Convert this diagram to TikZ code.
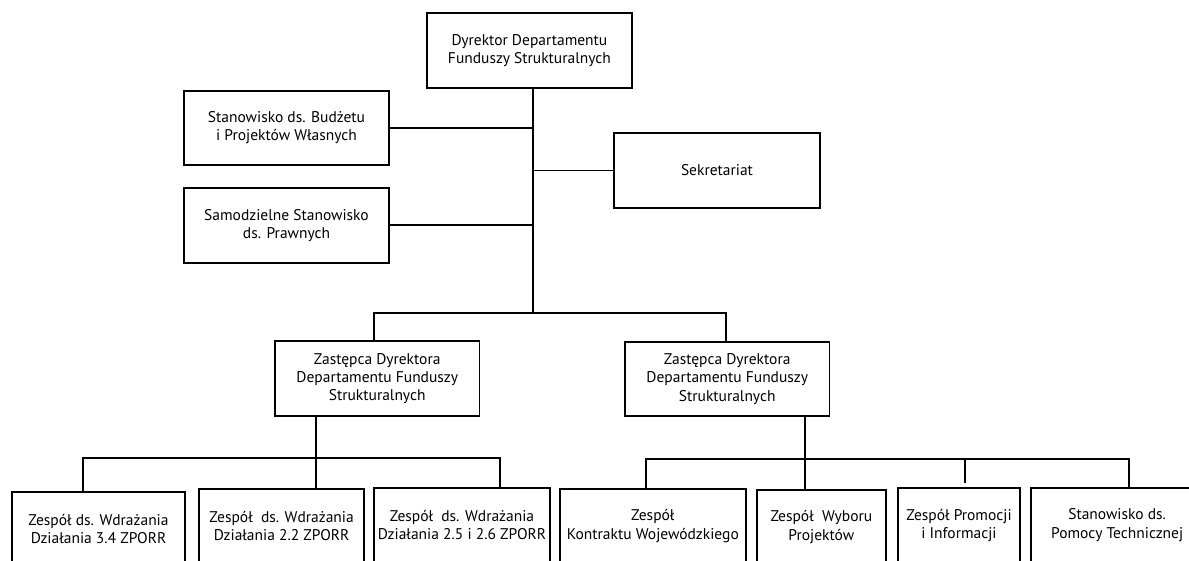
\documentclass[tikz,border=0pt]{standalone}
\usepackage{fontspec}
\setmainfont{PT Sans}
\usetikzlibrary{calc}
\begin{document}
\begin{tikzpicture}[x=1pt,y=-1pt,
  box/.style={draw, line width=1.7pt, align=center, inner sep=0pt,
              font=\fontsize{15.5}{18.3}\selectfont},
  conn/.style={line width=1.7pt}]
\useasboundingbox (0,0) rectangle (1189,560);

% top level
\node[box, minimum width=205.3pt, minimum height=74.4pt] (dyr) at (529.4,50.5)
  {Dyrektor Departamentu\\Funduszy Strukturalnych};
\node[box, minimum width=205pt, minimum height=74.3pt] (bud) at (286.5,127.8)
  {Stanowisko ds. Budżetu\\i Projektów Własnych};
\node[box, minimum width=205pt, minimum height=74.7pt] (praw) at (286.5,225.3)
  {Samodzielne Stanowisko\\ds. Prawnych};
\node[box, minimum width=206pt, minimum height=74.4pt] (sek) at (717,170.5)
  {Sekretariat};

% deputies
\node[box, minimum width=204.3pt, minimum height=74.4pt] (z1) at (377.2,378.5)
  {Zastępca Dyrektora\\Departamentu Funduszy\\Strukturalnych};
\node[box, minimum width=204.3pt, minimum height=74pt] (z2) at (727.2,379)
  {Zastępca Dyrektora\\Departamentu Funduszy\\Strukturalnych};

% bottom row
\node[box, minimum width=173.6pt, minimum height=74pt] (b1) at (98.5,529)
  {Zespół ds. Wdrażania\\Działania 3.4 ZPORR};
\node[box, minimum width=164.7pt, minimum height=74pt] (b2) at (281.65,526)
  {Zespół\ \ ds. Wdrażania\\Działania 2.2 ZPORR};
\node[box, minimum width=176pt, minimum height=74pt] (b3) at (462,525)
  {Zespół\ \ ds. Wdrażania\\Działania 2.5 i 2.6 ZPORR};
\node[box, minimum width=185.7pt, minimum height=74pt] (b4) at (652.85,526)
  {Zespół\\Kontraktu Wojewódzkiego};
\node[box, minimum width=129.3pt, minimum height=74pt] (b5) at (821.35,527)
  {Zespół\ \ Wyboru\\Projektów};
\node[box, minimum width=122.6pt, minimum height=74pt] (b6) at (959,525.3)
  {Zespół Promocji\\i Informacji};
\node[box, minimum width=171.7pt, minimum height=74pt] (b7) at (1117.15,525)
  {Stanowisko ds.\\Pomocy Technicznej};

% main trunk
\coordinate (t) at (532.7,313.3);
\draw[conn] (dyr.south -| t) -- (t);
\draw[conn] (bud.east) -- (bud.east -| t);
\draw[conn] (praw.east) -- (praw.east -| t);
\draw[conn] (sek.west) -- (sek.west -| t);
\coordinate (h1) at (374,313.3);
\coordinate (h2) at (725.7,313.3);
\draw[conn] (h1 |- z1.north) -- (h1) -- (h2) -- (h2 |- z2.north);

% left group
\coordinate (l1) at (83.3,458.3);
\coordinate (l2) at (316,458.3);
\coordinate (l3) at (500.3,458.3);
\draw[conn] (z1.south -| l2) -- (l2 |- b2.north);
\draw[conn] (l1 |- b1.north) -- (l1) -- (l3) -- (l3 |- b3.north);

% right group
\coordinate (r1) at (645.7,459);
\coordinate (r2) at (805,459);
\coordinate (r3) at (965,459);
\coordinate (r4) at (1129,459);
\draw[conn] (z2.south -| r2) -- (r2 |- b5.north);
\draw[conn] (r1 |- b4.north) -- (r1) -- (r4) -- (r4 |- b7.north);
\draw[conn] (r3) -- ($(r3 |- b6.north)+(0,-4)$);
\end{tikzpicture}
\end{document}
